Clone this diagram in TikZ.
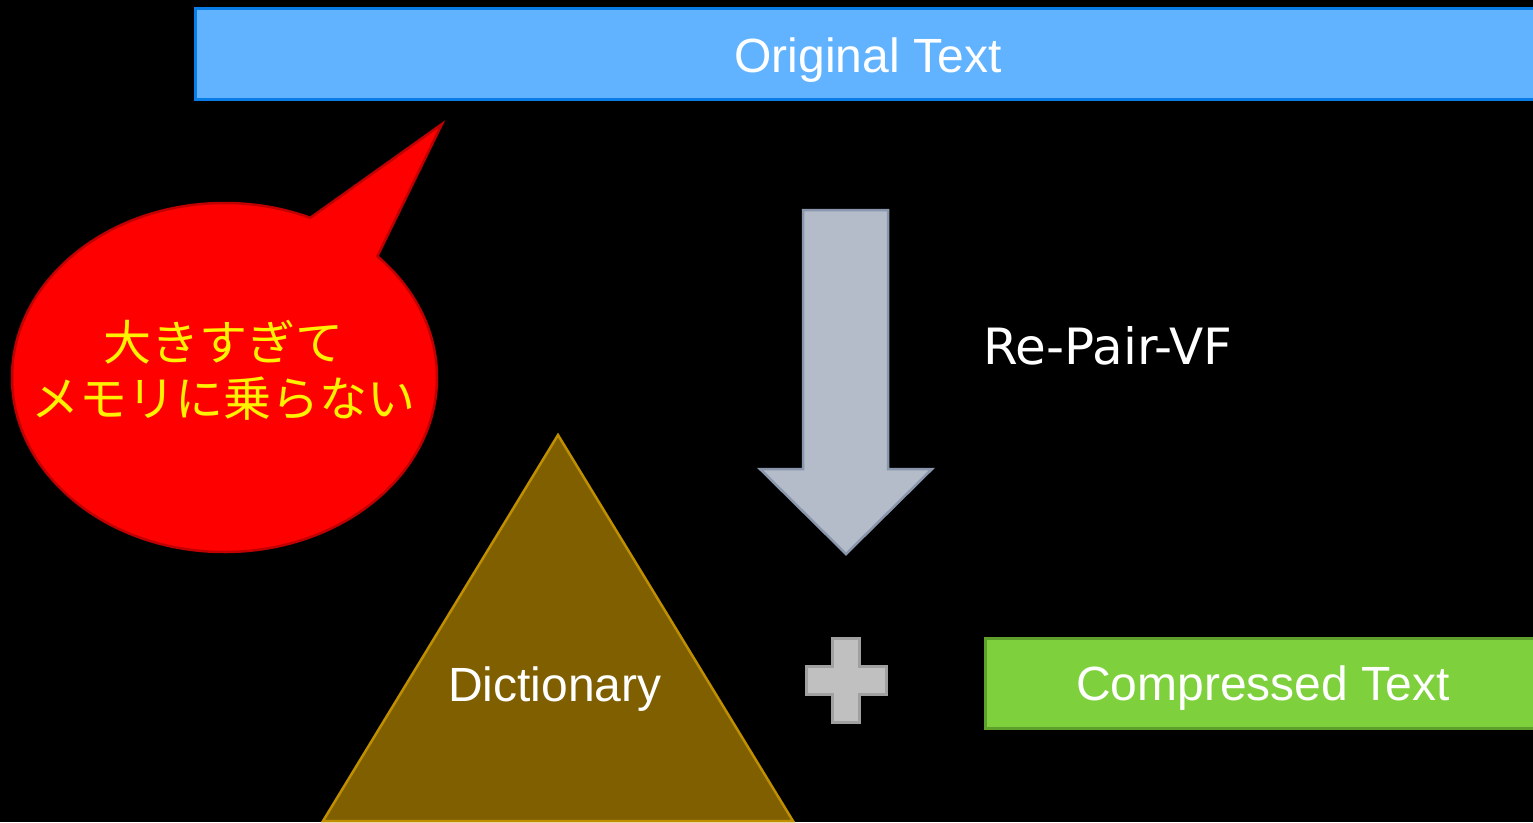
\documentclass[tikz,border=0pt]{standalone}
\usepackage{fontspec}
\setmainfont{Liberation Sans}
\newfontfamily\verdanalike{DejaVu Sans}
\newfontfamily\jpfont{Noto Sans CJK JP}
\definecolor{barfill}{HTML}{61B3FF}
\definecolor{barline}{HTML}{0A7CE6}
\definecolor{bubblefill}{HTML}{FF0000}
\definecolor{bubbleline}{HTML}{C00000}
\definecolor{arrowfill}{HTML}{B4BCCA}
\definecolor{arrowline}{HTML}{8A96AB}
\definecolor{plusfill}{HTML}{C0C0C0}
\definecolor{plusline}{HTML}{A0A0A0}
\definecolor{greenfill}{HTML}{7ED13C}
\definecolor{greenline}{HTML}{5E9E2A}
\definecolor{trifill}{HTML}{7F5F00}
\definecolor{triline}{HTML}{BF8F00}
\tikzset{
  label48/.style={text=white, inner sep=0pt, anchor=base, font=\fontsize{48}{58}\selectfont},
  jptext/.style={text=yellow, inner sep=0pt, align=center,
    font=\jpfont\fontsize{48}{56}\selectfont},
}
\begin{document}
\begin{tikzpicture}[x=1pt, y=-1pt, line join=miter]
  \useasboundingbox (0,0) rectangle (1533,822);
  \fill[black] (0,0) rectangle (1533,822);
  \clip (0,0) rectangle (1533,822);

  % input text bar
  \draw[fill=barfill, draw=barline, line width=3pt] (195,8) rectangle (1545,99);
  \node[label48] (orig) at (868,72) {Original Text};

  % speech bubble with tail
  \draw[fill=bubblefill, draw=bubbleline, line width=2.5pt] (224.5,377.5) ellipse [x radius=212.5, y radius=174.5];
  \fill[bubblefill] (310,218) -- (442,124) -- (377,257) -- (340,275) -- cycle;
  \draw[bubbleline, line width=2.5pt] (310,218) -- (442,124) -- (377,257);
  \node[jptext] (warn) at (223,370) {大きすぎて\\メモリに乗らない};

  % block arrow
  \draw[fill=arrowfill, draw=arrowline, line width=2.5pt]
    (803,210) -- (888,210) -- (888,469) -- (932,469) -- (846,554)
    -- (760,469) -- (803,469) -- cycle;
  \node[text=white, inner sep=0pt, anchor=base, font=\verdanalike\fontsize{50}{60}\selectfont] (algo) at (1108,364) {Re-Pair-VF};

  % dictionary triangle
  \draw[fill=trifill, draw=triline, line width=2.5pt] (558,435) -- (793,821) -- (323,821) -- cycle;
  \node[label48] (dict) at (555,701) {Dictionary};

  % plus sign
  \draw[fill=plusfill, draw=plusline, line width=3pt]
    (832,638) -- (859,638) -- (859,666) -- (886,666) -- (886,694) -- (859,694)
    -- (859,722) -- (832,722) -- (832,694) -- (806,694) -- (806,666) -- (832,666) -- cycle;

  % compressed output box
  \draw[fill=greenfill, draw=greenline, line width=3pt] (985,638) rectangle (1545,728);
  \node[label48] (comp) at (1263,700) {Compressed Text};
\end{tikzpicture}
\end{document}
